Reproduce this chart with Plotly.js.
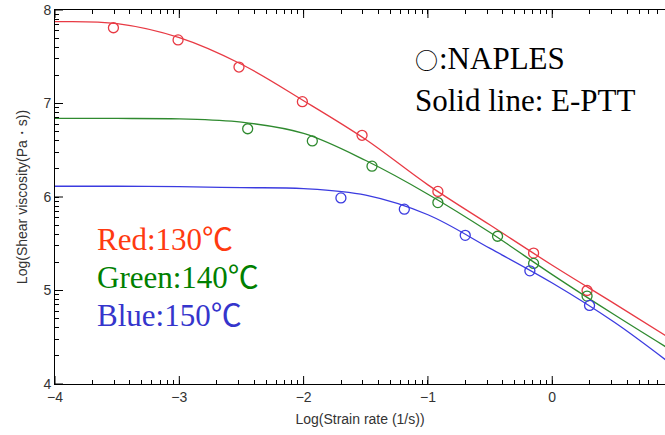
<!DOCTYPE html>
<html>
<head>
<meta charset="utf-8">
<script src="https://cdn.plot.ly/plotly-3.0.1.min.js"></script>
<style>html,body{margin:0;padding:0;background:#fff}#chart{width:665px;height:435px}</style>
</head>
<body>
<div id="chart"></div>
<script>
// log10(strain rate) and log10(viscosity)
const redX = [-3.53, -3.01, -2.52, -2.01, -1.53, -0.92, -0.15, 0.28];
const redY = [7.81, 7.68, 7.39, 7.02, 6.66, 6.06, 5.40, 5.00];
const greenX = [-2.45, -1.93, -1.45, -0.92, -0.44, -0.15, 0.28];
const greenY = [6.73, 6.60, 6.33, 5.94, 5.58, 5.29, 4.94];
const blueX = [-1.70, -1.19, -0.70, -0.18, 0.30];
const blueY = [5.99, 5.87, 5.59, 5.21, 4.84];

// E-PTT curves (read at sample strain rates)
const fitX = [-4, -3.5, -3, -2.5, -2, -1.5, -1, -0.5, 0, 0.5, 0.91];
const redFit = [7.875, 7.855, 7.705, 7.42, 7.03, 6.615, 6.13, 5.70, 5.27, 4.86, 4.52];
const greenFit = [6.84, 6.84, 6.835, 6.80, 6.68, 6.39, 6.03, 5.62, 5.17, 4.74, 4.40];
const blueFit = [6.115, 6.115, 6.11, 6.10, 6.09, 6.02, 5.81, 5.45, 5.08, 4.66, 4.26];

const xTickLog = [-4, -3, -2, -1, 0];
const xTickText = ['\u22124', '\u22123', '\u22122', '\u22121', '0'];
const yTickLog = [4, 5, 6, 7, 8];
const yTickText = ['4', '5', '6', '7', '8'];
const minorDigits = [2, 3, 4, 5, 6, 7, 8, 9];

const p10 = a => a.map(v => Math.pow(10, v));
const minorLogs = decades => decades.flatMap(d => minorDigits.map(k => d + Math.log10(k)));

const RED = '#e83a44', GREEN = '#2f8a2f', BLUE = '#3b3be0';

function fit(y, c) {
  return {x: p10(fitX), y: p10(y), mode: 'lines', type: 'scatter',
    line: {color: c, width: 1.3, shape: 'spline', smoothing: 1}};
}
function pts(x, y, c) {
  return {x: p10(x), y: p10(y), mode: 'markers', type: 'scatter',
    marker: {symbol: 'circle-open', size: 10, color: c, line: {width: 1.3, color: c}}};
}

const data = [fit(redFit, RED), fit(greenFit, GREEN), fit(blueFit, BLUE),
  pts(redX, redY, RED), pts(greenX, greenY, GREEN), pts(blueX, blueY, BLUE)];

const serif = 'Liberation Serif, Times New Roman, serif';

function ann(text, px, py, color, family, size) {
  return {text: text, xref: 'paper', yref: 'paper', x: (px - 55) / 610, y: (384.5 - py) / 374,
    xanchor: 'left', yanchor: 'middle', showarrow: false,
    font: {family: family || serif, size: size || 31, color: color}};
}

const xRange = [-4, 0.907], yRange = [4, 8];

// all tick positions (decades labelled, log-style minor ticks unlabelled)
const xMinor = minorLogs([-4, -3, -2, -1, 0]).filter(v => v <= xRange[1]);
const yMinor = minorLogs([4, 5, 6, 7]);
const xAll = p10(xTickLog.concat(xMinor));
const xAllText = xTickText.concat(xMinor.map(() => ''));
const yAll = p10(yTickLog.concat(yMinor));
const yAllText = yTickText.concat(yMinor.map(() => ''));

// longer decade ticks drawn as lines along the axes
const frac = (v, r) => (v - r[0]) / (r[1] - r[0]);
const tickShapes = [];
xTickLog.map(v => frac(v, xRange)).forEach(f => {
  tickShapes.push({type: 'line', xref: 'paper', yref: 'paper', x0: f, x1: f,
    ysizemode: 'pixel', yanchor: 0, y0: 0, y1: 8, line: {color: '#000', width: 1}});
  tickShapes.push({type: 'line', xref: 'paper', yref: 'paper', x0: f, x1: f,
    ysizemode: 'pixel', yanchor: 1, y0: 0, y1: -8, line: {color: '#000', width: 1}});
});
yTickLog.map(v => frac(v, yRange)).forEach(f => {
  tickShapes.push({type: 'line', xref: 'paper', yref: 'paper', y0: f, y1: f,
    xsizemode: 'pixel', xanchor: 0, x0: 0, x1: 8, line: {color: '#000', width: 1}});
});

const layout = {
  width: 665, height: 435,
  margin: {l: 55, r: 0, t: 10, b: 51, pad: 0},
  showlegend: false,
  xaxis: {type: 'log', range: xRange, tickmode: 'array', tickvals: xAll, ticktext: xAllText,
    ticks: 'inside', ticklen: 4, tickcolor: '#000', showline: true, linecolor: '#000',
    mirror: 'ticks', showgrid: false, zeroline: false,
    tickfont: {family: 'Liberation Sans, Arial, sans-serif', size: 14, color: '#333'},
    title: {text: 'Log(Strain rate (1/s))', standoff: 10,
      font: {family: 'Liberation Sans, Arial, sans-serif', size: 14, color: '#333'}}},
  yaxis: {type: 'log', range: yRange, tickmode: 'array', tickvals: yAll, ticktext: yAllText,
    ticks: 'inside', ticklen: 4, tickcolor: '#000', showline: true, linecolor: '#000',
    showgrid: false, zeroline: false,
    tickfont: {family: 'Liberation Sans, Arial, sans-serif', size: 14, color: '#333'},
    title: {text: 'Log(Shear viscosity(Pa\u30FBs))', standoff: 12,
      font: {family: 'Liberation Sans, Arial, sans-serif', size: 14, color: '#333'}}},
  shapes: tickShapes,
  annotations: [
    ann('\u25CB', 413, 60, '#000', 'Noto Sans CJK JP', 23),
    ann(':NAPLES', 437, 59, '#000'),
    ann('Solid line: E-PTT', 413, 101, '#000'),
    ann('Red:130\u2103', 95, 240, '#ff3a10', 'Liberation Serif, Noto Sans CJK JP, serif'),
    ann('Green:140\u2103', 95, 278, '#008000', 'Liberation Serif, Noto Sans CJK JP, serif'),
    ann('Blue:150\u2103', 95, 316, '#3535cc', 'Liberation Serif, Noto Sans CJK JP, serif')
  ]
};

Plotly.newPlot('chart', data, layout, {displayModeBar: false});
</script>
</body>
</html>
